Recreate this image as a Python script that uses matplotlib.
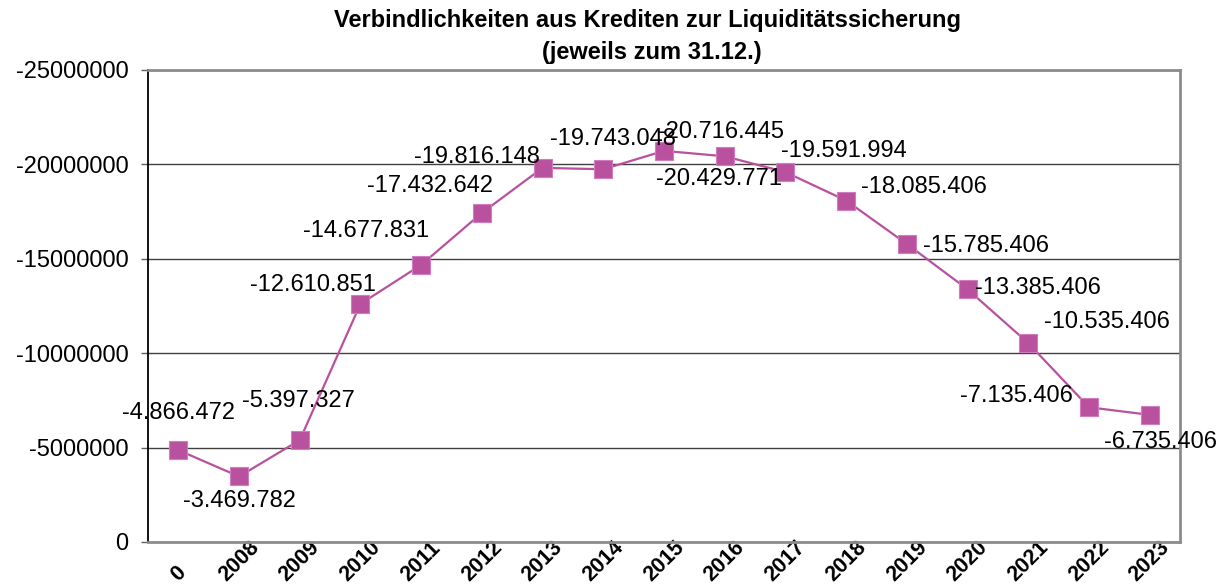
import matplotlib
matplotlib.use("Agg")
import matplotlib.pyplot as plt

plt.rcParams['font.family'] = ['Liberation Sans', 'DejaVu Sans']

# categories and values (EUR, jeweils zum 31.12.)
jahre = ['0', '2008', '2009', '2010', '2011', '2012', '2013', '2014', '2015',
         '2016', '2017', '2018', '2019', '2020', '2021', '2022', '2023']
werte = [-4866472, -3469782, -5397327, -12610851, -14677831, -17432642,
         -19816148, -19743048, -20716445, -20429771, -19591994, -18085406,
         -15785406, -13385406, -10535406, -7135406, -6735406]
y_ticks = [0, -5000000, -10000000, -15000000, -20000000, -25000000]

# label offsets in points (dx, dy) relative to each marker
offsets = [(0, 26.5), (0, -18), (-0.7, 28), (-34.5, 13.5), (-40, 24.5), (-37.5, 19.5),
           (-47, 8), (7, 22), (41, 13.7), (-4.3, -16.6), (42, 15), (56, 10),
           (57, -1.4), (51, 0.7), (57, 15), (-52, 8), (8, -19.4)]

def fmt_de(v):
    s = f"{abs(v):,}".replace(",", ".")
    return "-" + s if v < 0 else s

fig = plt.figure(figsize=(12.25, 5.86), dpi=100)
ax = fig.add_axes([148 / 1225, 1 - 542 / 586, (1180 - 148) / 1225, (542 - 70) / 586])

x = list(range(len(jahre)))
ax.plot(x, werte, color='#B9519F', lw=1.6, marker='s', markersize=13,
        markerfacecolor='#B9519F', markeredgecolor='#D07CC0', markeredgewidth=0.8,
        zorder=3, clip_on=False)

for i, v in enumerate(werte):
    ax.annotate(fmt_de(v), (i, v), xytext=offsets[i], textcoords='offset points',
                ha='center', va='center', fontsize=17, color='black', zorder=4)

ax.set_xlim(-0.5, len(jahre) - 0.5)
ax.set_ylim(0, -25000000)
ax.set_yticks(y_ticks)
ax.set_yticklabels([str(v) for v in y_ticks], fontsize=17)
ax.set_xticks(x)
ax.set_xticklabels(jahre, rotation=45, ha='center', va='bottom',
                   fontsize=15.5, fontweight='bold')
ax.tick_params(axis='x', length=0, pad=31.5)
ax.tick_params(axis='y', length=5, width=1, color='#606060', pad=9)

ax.yaxis.grid(True, color='#404040', lw=1)
ax.set_axisbelow(True)
ax.spines['left'].set_color('black')
ax.spines['left'].set_linewidth(1.3)
for s in ['top', 'right', 'bottom']:
    ax.spines[s].set_color('#8C8C8C')
    ax.spines[s].set_linewidth(2)

fig.text(648 / 1225, 1 - 27 / 586, 'Verbindlichkeiten aus Krediten zur Liquiditätssicherung',
         ha='center', va='baseline', fontsize=17, fontweight='bold')
fig.text(652 / 1225, 1 - 59 / 586, '(jeweils zum 31.12.)',
         ha='center', va='baseline', fontsize=17, fontweight='bold')

fig.savefig('out.png', dpi=100)
